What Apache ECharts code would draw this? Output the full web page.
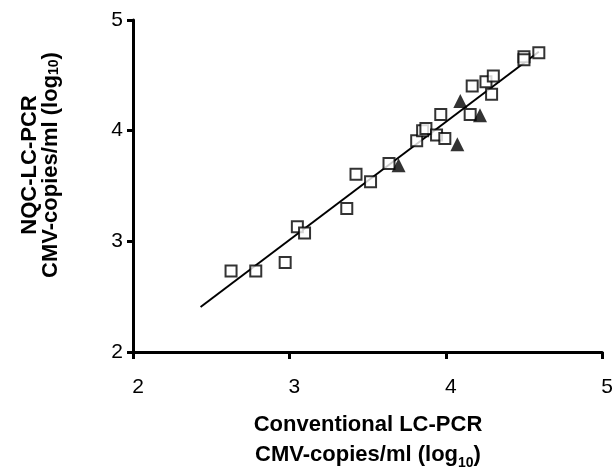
<!DOCTYPE html>
<html>
<head>
<meta charset="utf-8">
<script src="https://cdn.jsdelivr.net/npm/echarts@6/dist/echarts.min.js"></script>
<style>
  html, body { margin: 0; padding: 0; background: #fff; }
  #chart { width: 616px; height: 472px; }
</style>
</head>
<body>
<div id="chart"></div>
<script>
// open squares
const squareX = [2.627, 2.785, 2.973, 3.051, 3.097, 3.367, 3.426, 3.519, 3.637, 3.814, 3.852, 3.873, 3.941, 3.994, 3.968, 4.156, 4.169, 4.257, 4.304, 4.293, 4.50, 4.50, 4.595];
const squareY = [2.733, 2.733, 2.808, 3.131, 3.076, 3.296, 3.607, 3.538, 3.703, 3.908, 4.000, 4.020, 3.960, 3.929, 4.146, 4.146, 4.403, 4.442, 4.493, 4.330, 4.668, 4.640, 4.704];
// filled triangles
const triX = [3.698, 4.093, 4.074, 4.219];
const triY = [3.688, 4.267, 3.878, 4.140];
// regression line end points
const lineX = [2.432, 4.595];
const lineY = [2.407, 4.713];
const ticks = [2, 3, 4, 5];

const pairs = (xs, ys) => xs.map((x, i) => [x, ys[i]]);
const FONT = 'Liberation Sans';

const chart = echarts.init(document.getElementById('chart'));
chart.setOption({
  animation: false,
  backgroundColor: '#fff',
  grid: { left: 133, right: 9, top: 20, bottom: 120, containLabel: false },
  xAxis: {
    type: 'value', min: ticks[0], max: ticks[ticks.length - 1], interval: 1,
    axisLine: { lineStyle: { color: '#000', width: 3 } },
    axisTick: { show: true, length: 7, lineStyle: { color: '#000', width: 3 } },
    splitLine: { show: false },
    axisLabel: { color: '#000', fontSize: 21, fontFamily: FONT, margin: 25, padding: [0, 0, 0, 10] }
  },
  yAxis: {
    type: 'value', min: ticks[0], max: ticks[ticks.length - 1], interval: 1,
    axisLine: { lineStyle: { color: '#000', width: 3 } },
    axisTick: { show: true, length: 6, lineStyle: { color: '#000', width: 3 } },
    splitLine: { show: false },
    axisLabel: { color: '#000', fontSize: 21, fontFamily: FONT, margin: 10 }
  },
  graphic: [
    {
      type: 'text', x: 368, y: 440, z: 10,
      style: {
        text: '{b|Conventional LC-PCR}\n{b|CMV-copies/ml (log}{s|10}{b|)}',
        align: 'center', verticalAlign: 'middle',
        rich: {
          b: { fontSize: 22, fontWeight: 'bold', fontFamily: FONT, fill: '#000', lineHeight: 30 },
          s: { fontSize: 14, fontWeight: 'bold', fontFamily: FONT, fill: '#000', lineHeight: 14, verticalAlign: 'bottom' }
        }
      }
    },
    {
      type: 'text', x: 40, y: 165, rotation: Math.PI / 2, z: 10,
      style: {
        text: '{b|NQC-LC-PCR}\n{b|CMV-copies/ml (log}{s|10}{b|)}',
        align: 'center', verticalAlign: 'middle',
        rich: {
          b: { fontSize: 22, fontWeight: 'bold', fontFamily: FONT, fill: '#000', lineHeight: 21 },
          s: { fontSize: 14, fontWeight: 'bold', fontFamily: FONT, fill: '#000', lineHeight: 6, verticalAlign: 'bottom' }
        }
      }
    }
  ],
  series: [
    {
      type: 'line', data: pairs(lineX, lineY), symbol: 'none',
      lineStyle: { color: '#000', width: 2 }, z: 1
    },
    {
      type: 'scatter', data: pairs(squareX, squareY), symbol: 'rect', symbolSize: 11,
      itemStyle: { color: '#fff', borderColor: '#000', borderWidth: 2 }, z: 2
    },
    {
      type: 'scatter', data: pairs(triX, triY), symbol: 'triangle', symbolSize: 14,
      itemStyle: { color: '#000' }, z: 3
    }
  ]
});
</script>
</body>
</html>
